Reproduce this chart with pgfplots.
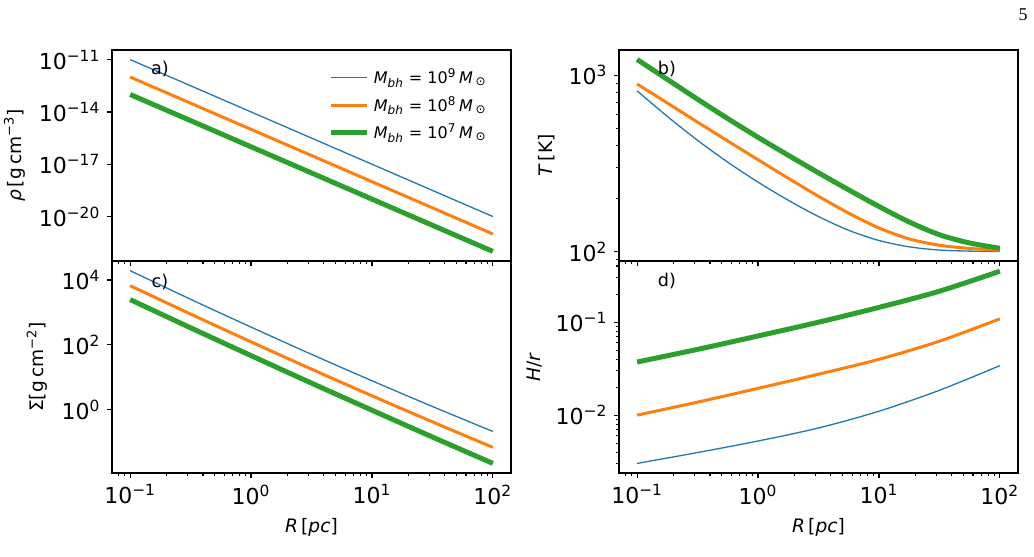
\documentclass[border=0pt]{standalone}
\usepackage{fontspec}
\setmainfont{DejaVu Sans}
\newfontfamily\seriffont{Liberation Serif}
\usepackage{pgfplots}
\pgfplotsset{compat=1.18}
\definecolor{c0}{HTML}{1F77B4}
\definecolor{c1}{HTML}{FF7F0E}
\definecolor{c2}{HTML}{2CA02C}
\newcommand{\sups}[1]{\textsuperscript{#1}}
\newcommand{\msun}{\textit{M}\,\textsubscript{⊙}}
\tikzset{
  sA/.style={c0, line width=0.65pt},
  sB/.style={c1, line width=1.5pt},
  sC/.style={c2, line width=2.5pt},
  plab/.style={font=\fontsize{8.8}{10}\selectfont},
}
\pgfplotsset{
  every axis/.append style={
    scale only axis, width=199.5pt,
    xmin=0.0708, xmax=141.3,
    axis line style={line width=0.6pt},
    tick style={black, line width=0.6pt},
    major tick length=2.3pt, minor tick length=1.3pt,
    tick align=outside, xtick pos=left, ytick pos=left,
    xtick={0.1,1,10,100},
    minor xtick={0.08,0.09,0.2,0.3,0.4,0.5,0.6,0.7,0.8,0.9,2,3,4,5,6,7,8,9,20,30,40,50,60,70,80,90},
    tick label style={font=\fontsize{11}{13}\selectfont},
    label style={font=\fontsize{9.3}{11}\selectfont},
  },
}
\begin{document}
\begin{tikzpicture}
\path[use as bounding box] (0,0) rectangle (517pt,278.5pt);
\node[font=\seriffont\fontsize{9}{10}\selectfont] at (511.5pt,271pt) {5};

% ---------- a) density
\begin{loglogaxis}[at={(56pt,148pt)}, anchor=south west, height=105.5pt,
  xticklabels={},
  ymin=2.818e-23, ymax=3.548e-11,
  ytick={1e-20,1e-17,1e-14,1e-11},
  yticklabels={10\sups{−20},10\sups{−17},10\sups{−14},10\sups{−11}},
  minor ytick={},
  ylabel={\textit{ρ}\,[g\,cm\sups{−3}]},
  legend style={draw=none, fill=none, at={(rel axis cs:0.965,0.95)}, anchor=north east,
    font=\fontsize{8}{10}\selectfont, row sep=1pt},
  legend cell align=left,
  legend image code/.code={\draw[#1] (0pt,0pt) -- (18pt,0pt);},
]
\addplot[sA] coordinates {(0.1,1e-11) (100,1e-20)};
\addlegendentry{\textit{M}\textsubscript{\textit{bh}} = 10\sups{9}\,\msun}
\addplot[sB] coordinates {(0.1,1e-12) (100,1e-21)};
\addlegendentry{\textit{M}\textsubscript{\textit{bh}} = 10\sups{8}\,\msun}
\addplot[sC] coordinates {(0.1,1e-13) (100,1e-22)};
\addlegendentry{\textit{M}\textsubscript{\textit{bh}} = 10\sups{7}\,\msun}
\node[plab] at (rel axis cs:0.12,0.91) {a)};
\end{loglogaxis}

% ---------- c) surface density
\begin{loglogaxis}[at={(56pt,42pt)}, anchor=south west, height=106pt,
  xticklabels={10\sups{−1},10\sups{0},10\sups{1},10\sups{2}},
  xlabel={\textit{R}\,[\textit{pc}]},
  ymin=0.0112, ymax=38370,
  ytick={1,100,10000},
  yticklabels={10\sups{0},10\sups{2},10\sups{4}},
  minor ytick={},
  ylabel={Σ[g\,cm\sups{−2}]},
]
\addplot[sA, smooth] coordinates {(0.1,19360) (0.316,2541) (1,351.6) (3.16,51.05) (10,7.816) (31.6,1.259) (100,0.2138)};
\addplot[sB, smooth] coordinates {(0.1,6668) (0.316,889.2) (1,123.6) (3.16,17.86) (10,2.692) (31.6,0.4236) (100,0.06918)};
\addplot[sC, smooth] coordinates {(0.1,2483) (0.316,335.4) (1,46.56) (3.16,6.614) (10,0.966) (31.6,0.1443) (100,0.02218)};
\node[plab] at (rel axis cs:0.12,0.90) {c)};
\end{loglogaxis}

% ---------- b) temperature
\begin{loglogaxis}[at={(309.5pt,148pt)}, anchor=south west, height=105.5pt,
  xticklabels={},
  ymin=88.7, ymax=1393,
  ytick={100,1000},
  yticklabels={10\sups{2},10\sups{3}},
  minor ytick={90,200,300,400,500,600,700,800,900},
  ylabel={\textit{T}\,[K]},
]
\addplot[sA, smooth] coordinates {(0.1,816.6) (0.178,584.8) (0.316,428.5) (0.562,322.1) (1,248.3) (1.78,195.9) (3.16,158.5) (5.62,132.4) (10,115.9) (17.8,106.7) (31.6,102.3) (56.2,100.9) (100,100.5)};
\addplot[sB, smooth] coordinates {(0.1,893.3) (0.178,696.6) (0.316,543.3) (0.562,424.6) (1,332.7) (1.78,261.2) (3.16,206.5) (5.62,165.6) (10,136.5) (17.8,118.3) (31.6,108.9) (56.2,104.5) (100,102.1)};
\addplot[sC, smooth] coordinates {(0.1,1230) (0.178,948.4) (0.316,732.8) (0.562,568.9) (1,445.6) (1.78,352.4) (3.16,280.5) (5.62,224.4) (10,180.7) (17.8,147.6) (31.6,125.0) (56.2,112.2) (100,104.7)};
\node[plab] at (rel axis cs:0.12,0.91) {b)};
\end{loglogaxis}

% ---------- d) aspect ratio
\begin{loglogaxis}[at={(309.5pt,42pt)}, anchor=south west, height=106pt,
  xticklabels={10\sups{−1},10\sups{0},10\sups{1},10\sups{2}},
  xlabel={\textit{R}\,[\textit{pc}]},
  ymin=0.002388, ymax=0.4539,
  ytick={0.01,0.1},
  yticklabels={10\sups{−2},10\sups{−1}},
  minor ytick={0.003,0.004,0.005,0.006,0.007,0.008,0.009,0.02,0.03,0.04,0.05,0.06,0.07,0.08,0.09,0.2,0.3,0.4},
  ylabel={\textit{H}/\textit{r}},
]
\addplot[sA, smooth] coordinates {(0.1,0.003027) (0.316,0.003963) (1,0.005272) (3.16,0.007278) (10,0.01102) (31.6,0.01849) (100,0.03404)};
\addplot[sB, smooth] coordinates {(0.1,0.0100) (0.316,0.01380) (1,0.01941) (3.16,0.02754) (10,0.03981) (31.6,0.06237) (100,0.1084)};
\addplot[sC, smooth] coordinates {(0.1,0.03724) (0.316,0.05093) (1,0.07096) (3.16,0.09977) (10,0.1439) (31.6,0.2148) (100,0.3524)};
\node[plab] at (rel axis cs:0.12,0.907) {d)};
\end{loglogaxis}
\end{tikzpicture}
\end{document}
